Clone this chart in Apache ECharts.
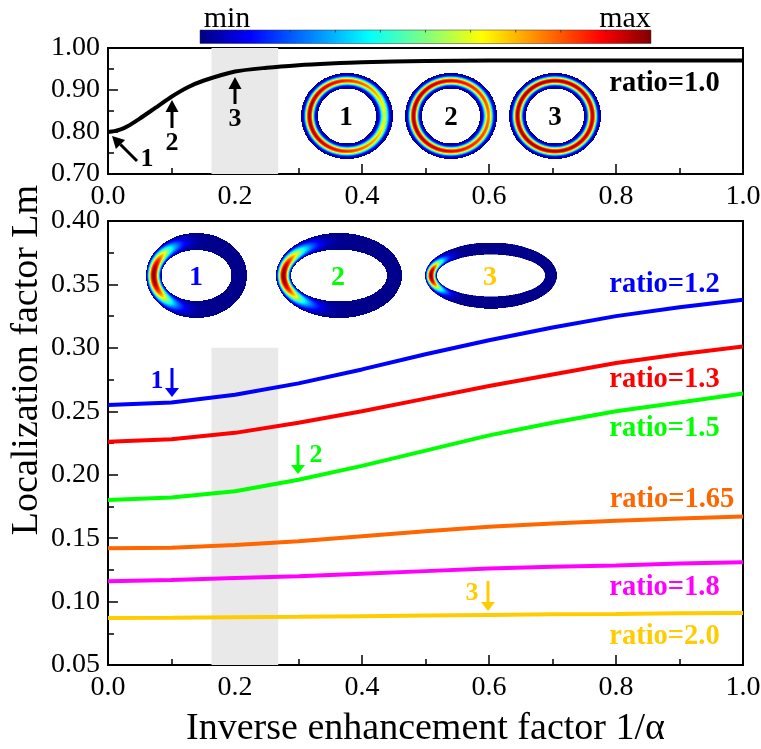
<!DOCTYPE html>
<html><head><meta charset="utf-8">
<style>html,body{margin:0;padding:0;background:#fff}#c{width:761px;height:749px}</style>
<script src="https://cdn.jsdelivr.net/npm/echarts@6/dist/echarts.min.js"></script></head>
<body><div id="c"></div>
<script>
const xTicks=[0,0.1,0.2,0.3,0.4,0.5,0.6,0.7,0.8,0.9,1.0];
const xTop=[0,0.01,0.02,0.03,0.05,0.075,0.1,0.125,0.15,0.2,0.25,0.3,0.35,0.4,0.5,0.6,0.7,0.8,0.9,1.0];
const ratio10=[0.80,0.802,0.806,0.813,0.832,0.858,0.884,0.906,0.922,0.944,0.953,0.959,0.963,0.966,0.969,0.97,0.97,0.97,0.97,0.97];
const ratio12=[0.255,0.257,0.263,0.272,0.283,0.295,0.306,0.316,0.325,0.332,0.338];
const ratio13=[0.226,0.228,0.233,0.241,0.250,0.260,0.270,0.279,0.288,0.295,0.301];
const ratio15=[0.180,0.182,0.187,0.196,0.207,0.219,0.231,0.241,0.250,0.257,0.264];
const ratio165=[0.142,0.1425,0.1445,0.1475,0.1515,0.1555,0.159,0.1615,0.1637,0.1655,0.167];
const ratio18=[0.116,0.117,0.1185,0.120,0.122,0.124,0.126,0.1275,0.1285,0.130,0.131];
const ratio20=[0.087,0.0873,0.0877,0.088,0.0885,0.089,0.0895,0.090,0.0903,0.0907,0.091];
const bandX=[0.163,0.268];
const bandBottomTop=0.30;
const F='"Liberation Serif","Times New Roman",serif';
const jet=[[0,'#00007f'],[0.11,'#0000ff'],[0.375,'#00ffff'],[0.625,'#ffff00'],[0.89,'#ff0000'],[1,'#7f0000']];
function hex(s){return [1,3,5].map(i=>parseInt(s.substr(i,2),16));}
function jetColor(v){v=Math.max(0,Math.min(1,v));for(let i=1;i<jet.length;i++){if(v<=jet[i][0]){const a=jet[i-1],b=jet[i],t=(v-a[0])/(b[0]-a[0]),A=hex(a[1]),B=hex(b[1]);return [0,1,2].map(k=>A[k]+(B[k]-A[k])*t);}}return hex(jet[5][1]);}
// renders a ring inset: outer/inner half axes, field function of (t across ring, angle from left point)
function ring(w,h,iw,ih,field){
  const S=3,c=document.createElement('canvas');c.width=w*2*S;c.height=h*2*S;
  const g=c.getContext('2d'),im=g.createImageData(c.width,c.height);
  for(let j=0;j<c.height;j++)for(let i=0;i<c.width;i++){
    const x=(i+.5)/S-w,y=(j+.5)/S-h;
    const ro=Math.hypot(x/w,y/h);if(ro>1)continue;
    const ri=Math.hypot(x/iw,y/ih);if(ri<1)continue;
    const t=(ri-1)/(ri/ro-1);
    const phi=Math.abs(Math.atan2(y/h,-x/w));
    const col=jetColor(field(t,phi));const k=(j*c.width+i)*4;
    im.data[k]=col[0];im.data[k+1]=col[1];im.data[k+2]=col[2];im.data[k+3]=255;
  }
  g.putImageData(im,0,0);return c;
}
const bell=(t,p)=>Math.pow(Math.sin(Math.PI*Math.min(1,Math.max(0,t))),p);
const roundField=(lo)=>(t,phi)=>0.02+0.96*bell(t,3)*(lo+(1-lo)*Math.cos(phi/2));
const hotField=(sig)=>(t,phi)=>0.01+0.99*bell(t,1.4)*Math.exp(-Math.pow(phi/sig,2.5));
function img(cx,cy,w,h,iw,ih,field){return {type:'image',silent:true,z:5,style:{image:ring(w,h,iw,ih,field),x:cx-w,y:cy-h,width:2*w,height:2*h}};}
function txt(s,x,y,color,size,weight,extra){return Object.assign({type:'text',z:10,silent:true,style:{text:s,x:x,y:y,fill:color,font:(weight||'normal')+' '+size+'px '+F,textAlign:'center',textVerticalAlign:'middle'}},extra||{});}
function arrow(x1,y1,x2,y2,color,w,hl,hw){
  const d=Math.hypot(x2-x1,y2-y1),ux=(x2-x1)/d,uy=(y2-y1)/d,bx=x2-ux*hl,by=y2-uy*hl;
  return [{type:'line',z:10,silent:true,shape:{x1:x1,y1:y1,x2:bx,y2:by},style:{stroke:color,lineWidth:w}},
  {type:'polygon',z:10,silent:true,shape:{points:[[x2,y2],[bx-uy*hw,by+ux*hw],[bx+uy*hw,by-ux*hw]]},style:{fill:color}}];
}
const barX=200,barY=30,barW=451,barH=13.5;
const barTicks=[1,2,3,4,5,6,7,8,9].map(i=>({type:'line',z:6,silent:true,shape:{x1:barX+barW*i/10,y1:barY,x2:barX+barW*i/10,y2:barY+2.5},style:{stroke:'#333',lineWidth:0.8}}));
const graphic=[
  {type:'rect',z:5,silent:true,shape:{x:barX,y:barY,width:barW,height:barH},style:{stroke:'#333',lineWidth:0.5,fill:{type:'linear',x:0,y:0,x2:1,y2:0,colorStops:jet.map(s=>({offset:s[0],color:s[1]}))}}},
  ...barTicks,
  txt('min',227,19,'#000',30),txt('max',625,19,'#000',30),
  img(347,116,46,43,29,27.5,roundField(0.58)),img(451,116,46,43,29,27.5,roundField(0.78)),img(555,116,46,43,29,27.5,roundField(0.97)),
  txt('1',346,118,'#000',27,'bold'),txt('2',451,118,'#000',27,'bold'),txt('3',555,118,'#000',27,'bold'),
  img(196.5,275.5,50.5,42.5,35,25.5,hotField(0.92)),img(339,275.5,63,42.5,48,26,hotField(0.85)),img(491,275.5,66,33,54,21,hotField(0.55)),
  txt('1',196,278,'#0000ff',28,'bold'),txt('2',338,278,'#00ff00',28,'bold'),txt('3',490,278,'#ffcc00',28,'bold'),
  txt('ratio=1.0',664.5,84,'#000',28.5,'bold'),
  txt('ratio=1.2',664.5,285,'#0000ff',28.5,'bold'),txt('ratio=1.3',664.5,380,'#ff0000',28.5,'bold'),
  txt('ratio=1.5',664.5,429,'#00ff00',28.5,'bold'),txt('ratio=1.65',672,500,'#ff6600',28.5,'bold'),
  txt('ratio=1.8',664.5,588,'#ff00ff',28.5,'bold'),txt('ratio=2.0',664.5,637,'#ffcc00',28.5,'bold'),
  txt('1',147,159,'#000',26,'bold'),txt('2',172,143,'#000',26,'bold'),txt('3',235,119,'#000',26,'bold'),
  ...arrow(137,161,112,136,'#000',3,12,6.5),...arrow(172,128,172,100,'#000',3,12,6.5),...arrow(235,104,235,77,'#000',3,12,6.5),
  txt('1',157,381,'#0000ff',26,'bold'),...arrow(172,368,172,397,'#0000ff',3,9,7),
  txt('2',316,455,'#00ff00',26,'bold'),...arrow(298,445,298,474,'#00ff00',3,9,7),
  txt('3',472,593,'#ffcc00',26,'bold'),...arrow(488,581,488,611,'#ffcc00',3,9,7),
  {type:'text',z:10,silent:true,rotation:Math.PI/2,x:27,y:360,style:{text:'Localization factor Lm',x:0,y:0,fill:'#000',font:'38px '+F,textAlign:'center',textVerticalAlign:'middle'}}
];
function xAxis(i,name){return {type:'value',gridIndex:i,min:0,max:1,interval:0.2,name:name||'',nameLocation:'middle',nameGap:45,nameTextStyle:{fontFamily:F,fontSize:38,color:'#000'},
  axisLine:{onZero:false,lineStyle:{color:'#000',width:2}},axisTick:{inside:true,length:10,lineStyle:{color:'#000',width:1.5}},minorTick:{show:true,splitNumber:2,length:6,lineStyle:{color:'#000',width:1.5}},splitLine:{show:false},
  axisLabel:{fontFamily:F,fontSize:28,color:'#000',margin:9,formatter:v=>v.toFixed(1)}};}
function yAxis(i,min,max,iv){return {type:'value',gridIndex:i,min:min,max:max,interval:iv,axisLine:{onZero:false,lineStyle:{color:'#000',width:2}},axisTick:{inside:true,length:10,lineStyle:{color:'#000',width:1.5}},minorTick:{show:true,splitNumber:2,length:6,lineStyle:{color:'#000',width:1.5}},splitLine:{show:false},
  axisLabel:{fontFamily:F,fontSize:28,color:'#000',margin:8,formatter:v=>v.toFixed(2)}};}
function line(name,vals,color){return {name:name,type:'line',xAxisIndex:1,yAxisIndex:1,smooth:false,symbol:'none',z:4,lineStyle:{color:color,width:4},data:xTicks.map((x,i)=>[x,vals[i]])};}
const chart=echarts.init(document.getElementById('c'),null,{renderer:'canvas'});
chart.setOption({animation:false,backgroundColor:'#fff',
  grid:[{left:108,right:18,top:48,height:126,show:true,borderColor:'#000',borderWidth:2,backgroundColor:'transparent',outerBoundsMode:'none'},
        {left:108,right:18,top:221,height:444,show:true,borderColor:'#000',borderWidth:2,backgroundColor:'transparent',outerBoundsMode:'none'}],
  xAxis:[xAxis(0),xAxis(1,'Inverse enhancement factor 1/α')],
  yAxis:[yAxis(0,0.7,1.0,0.1),yAxis(1,0.05,0.40,0.05)],
  series:[
   {name:'band top',type:'line',xAxisIndex:0,yAxisIndex:0,data:[],symbol:'none',z:1,markArea:{silent:true,itemStyle:{color:'#e9e9e9'},data:[[{xAxis:bandX[0],yAxis:0.7},{xAxis:bandX[1],yAxis:1.0}]]}},
   {name:'band bottom',type:'line',xAxisIndex:1,yAxisIndex:1,data:[],symbol:'none',z:1,markArea:{silent:true,itemStyle:{color:'#e9e9e9'},data:[[{xAxis:bandX[0],yAxis:0.05},{xAxis:bandX[1],yAxis:bandBottomTop}]]}},
   {name:'ratio=1.0',type:'line',xAxisIndex:0,yAxisIndex:0,smooth:0.25,symbol:'none',z:4,lineStyle:{color:'#000',width:4},data:xTop.map((x,i)=>[x,ratio10[i]])},
   line('ratio=1.2',ratio12,'#0000ff'),line('ratio=1.3',ratio13,'#ff0000'),line('ratio=1.5',ratio15,'#00ff00'),
   line('ratio=1.65',ratio165,'#ff6600'),line('ratio=1.8',ratio18,'#ff00ff'),line('ratio=2.0',ratio20,'#ffcc00')
  ],
  graphic:{elements:graphic}
});
</script></body></html>
